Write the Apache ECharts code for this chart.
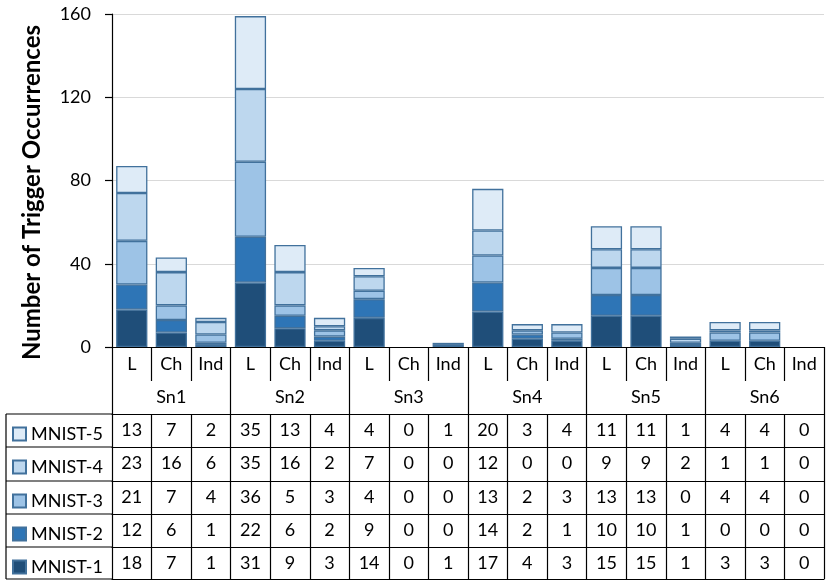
<!DOCTYPE html>
<html>
<head>
<meta charset="utf-8">
<script src="https://cdn.jsdelivr.net/npm/echarts@6/dist/echarts.min.js"></script>
<style>
  html, body { margin: 0; padding: 0; background: #fff; }
  #main { width: 830px; height: 582px; }
</style>
</head>
<body>
<div id="main"></div>
<script>
// chart values
var categories = ['L', 'Ch', 'Ind', 'L', 'Ch', 'Ind', 'L', 'Ch', 'Ind',
                  'L', 'Ch', 'Ind', 'L', 'Ch', 'Ind', 'L', 'Ch', 'Ind'];
var groups = ['Sn1', 'Sn2', 'Sn3', 'Sn4', 'Sn5', 'Sn6'];
var seriesNames = ['MNIST-1', 'MNIST-2', 'MNIST-3', 'MNIST-4', 'MNIST-5'];
var mnist1 = [18, 7, 1, 31, 9, 3, 14, 0, 1, 17, 4, 3, 15, 15, 1, 3, 3, 0];
var mnist2 = [12, 6, 1, 22, 6, 2, 9, 0, 0, 14, 2, 1, 10, 10, 1, 0, 0, 0];
var mnist3 = [21, 7, 4, 36, 5, 3, 4, 0, 0, 13, 2, 3, 13, 13, 0, 4, 4, 0];
var mnist4 = [23, 16, 6, 35, 16, 2, 7, 0, 0, 12, 0, 0, 9, 9, 2, 1, 1, 0];
var mnist5 = [13, 7, 2, 35, 13, 4, 4, 0, 1, 20, 3, 4, 11, 11, 1, 4, 4, 0];
var yTicks = [0, 40, 80, 120, 160];

var values = [mnist1, mnist2, mnist3, mnist4, mnist5];
var colors = ['#1f4e79', '#2e75b6', '#9dc3e6', '#bdd7ee', '#deebf7'];
var font = 'Lato';
var fs = 18;

var chart = echarts.init(document.getElementById('main'));

// table layout (px)
var axisY = 347;
var rowTops = [414, 447, 481, 514, 547];   // MNIST-5 ... MNIST-1
var tableBottom = 579;
var tableLeft = 6;
var plotLeft = 112;
var lineCol = '#000';

var xAxes = [
  {
    type: 'category', data: categories, position: 'bottom', gridIndex: 0,
    axisLine: { lineStyle: { color: lineCol, width: 1.2 } },
    axisTick: { show: true, interval: 0, length: 34, lineStyle: { color: lineCol, width: 1.2 } },
    axisLabel: { interval: 0, margin: 8, color: '#000', fontSize: fs, fontFamily: font }
  },
  {
    type: 'category', data: groups, position: 'bottom', offset: 34,
    axisLine: { show: false },
    axisTick: { show: true, interval: 0, length: 33, lineStyle: { color: lineCol, width: 1.2 } },
    axisLabel: { interval: 0, margin: 7, color: '#000', fontSize: fs, fontFamily: font }
  }
];

// one table row per series, top row is MNIST-5
for (var r = 0; r < 5; r++) {
  var si = 4 - r;
  xAxes.push({
    type: 'category', data: values[si].map(String), position: 'bottom',
    offset: rowTops[r] - axisY,
    axisLine: { show: true, lineStyle: { color: lineCol, width: 1.2 } },
    axisTick: { show: true, interval: 0, length: (r < 4 ? rowTops[r + 1] : tableBottom) - rowTops[r],
      lineStyle: { color: lineCol, width: 1.2 } },
    axisLabel: { interval: 0, margin: 7, color: '#000', fontSize: fs, fontFamily: font }
  });
}
// bottom border of table
xAxes.push({
  type: 'category', data: categories, position: 'bottom', offset: tableBottom - axisY,
  axisLine: { show: true, lineStyle: { color: lineCol, width: 1.2 } },
  axisTick: { show: false }, axisLabel: { show: false }
});

var legends = [];
for (var r = 0; r < 5; r++) {
  legends.push({
    data: [seriesNames[4 - r]],
    left: 7, top: rowTops[r] + 6,
    icon: 'rect', itemWidth: 13, itemHeight: 13, itemGap: 0,
    selectedMode: false,
    textStyle: { color: '#000', fontSize: fs, fontFamily: font }
  });
}

var lines = [];
var hy = [rowTops[0], rowTops[1], rowTops[2], rowTops[3], rowTops[4], tableBottom];
hy.forEach(function (y) {
  lines.push({ type: 'line', shape: { x1: tableLeft, y1: y, x2: plotLeft, y2: y },
    style: { stroke: lineCol, lineWidth: 1.2 } });
});
lines.push({ type: 'line', shape: { x1: tableLeft, y1: rowTops[0], x2: tableLeft, y2: tableBottom },
  style: { stroke: lineCol, lineWidth: 1.2 } });

chart.setOption({
  animation: false,
  grid: { left: plotLeft, right: 6, top: 14, height: axisY - 14 },
  legend: legends,
  xAxis: xAxes,
  yAxis: {
    type: 'value', min: yTicks[0], max: yTicks[yTicks.length - 1], interval: 40,
    name: 'Number of Trigger Occurrences', nameLocation: 'middle', nameGap: 68,
    nameTextStyle: { color: '#000', fontSize: 24, fontWeight: 'bold', fontFamily: font,
      padding: [0, 24, 0, 0] },
    axisLine: { show: true, lineStyle: { color: '#000', width: 1.2 } },
    axisTick: { show: true, length: 7, lineStyle: { color: '#000', width: 1.2 } },
    axisLabel: { margin: 21, color: '#000', fontSize: fs, fontFamily: font },
    splitLine: { lineStyle: { color: '#d9d9d9', width: 1.2 } }
  },
  graphic: lines,
  series: seriesNames.map(function (name, i) {
    return {
      name: name, type: 'bar', stack: 'total', xAxisIndex: 0,
      // zero-height segments get no outline
      data: values[i].map(function (v) {
        return v === 0 ? { value: v, itemStyle: { borderWidth: 0 } } : v;
      }),
      barCategoryGap: '21%',
      itemStyle: { color: colors[i], borderColor: '#41719c', borderWidth: 1.3 }
    };
  })
});
</script>
</body>
</html>
